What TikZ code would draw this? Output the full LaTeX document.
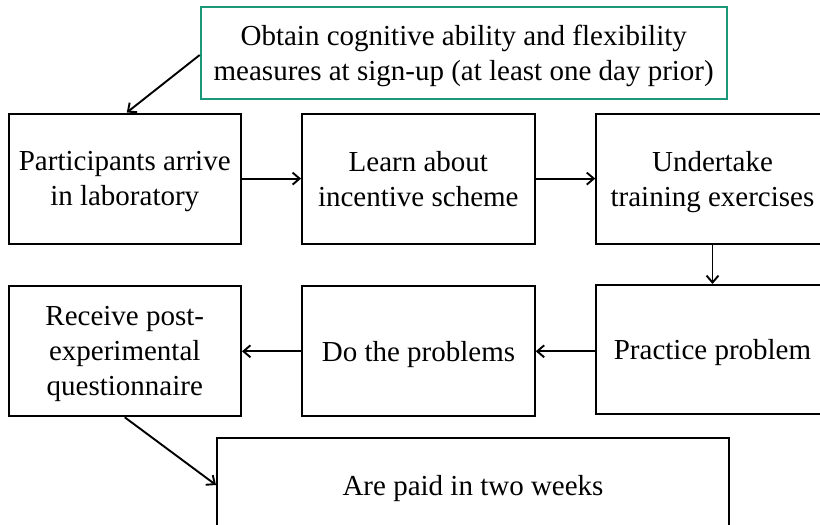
\documentclass[tikz,border=0pt]{standalone}
\usepackage{fontspec}
\setmainfont{Liberation Serif}
\usetikzlibrary{arrows.meta}
\definecolor{framegreen}{RGB}{26,152,122}

\begin{document}
\begin{tikzpicture}[x=1pt,y=-1pt,
  stepbox/.style={draw=black, line width=2pt, minimum width=232.5pt,
    minimum height=130pt, inner sep=0pt, align=center, text depth=-2pt,
    font=\fontsize{29}{35}\selectfont},
  notebox/.style={stepbox, draw=framegreen, minimum width=526pt, minimum height=92pt},
  flow/.style={line width=1.9pt, -{Straight Barb[length=7pt,width=12pt,line width=1.9pt]}}]

\path[use as bounding box, clip] (0,0) rectangle (820,525);
\fill[white] (0,0) rectangle (820,525);

% signup measures
\node[notebox] (signup) at (463.7,53) {Obtain cognitive ability and flexibility\\measures at sign-up (at least one day prior)};

% first row
\node[stepbox] (arrive) at (124.75,178.6) {Participants arrive\\in laboratory};
\node[stepbox] (learn) at (418.3,178.6) {Learn about\\incentive scheme};
\node[stepbox] (train) at (712.5,179) {Undertake\\training exercises};

% second row
\node[stepbox, minimum height=129pt] (practice) at (712.5,349.5) {Practice problem};
\node[stepbox] (solve) at (418.5,351.3) {Do the problems};
\node[stepbox] (survey) at (124.75,351.3) {Receive post-\\experimental\\questionnaire};

% payment
\node[stepbox, minimum width=512pt, minimum height=94pt] (pay) at (473,485) {Are paid in two weeks};

% connectors
\draw[flow] ([yshift=-2pt]signup.west) -- ([xshift=2pt]arrive.north);
\draw[flow] (arrive.east) -- (learn.west);
\draw[flow] (learn.east) -- (learn.east -| train.west);
\draw[flow] (train.south) -- (practice.north);
\draw[flow] (solve.east -| practice.west) -- (solve.east);
\draw[flow] (solve.west) -- (survey.east);
\draw[flow] (survey.south) -- (pay.west);
\end{tikzpicture}
\end{document}
